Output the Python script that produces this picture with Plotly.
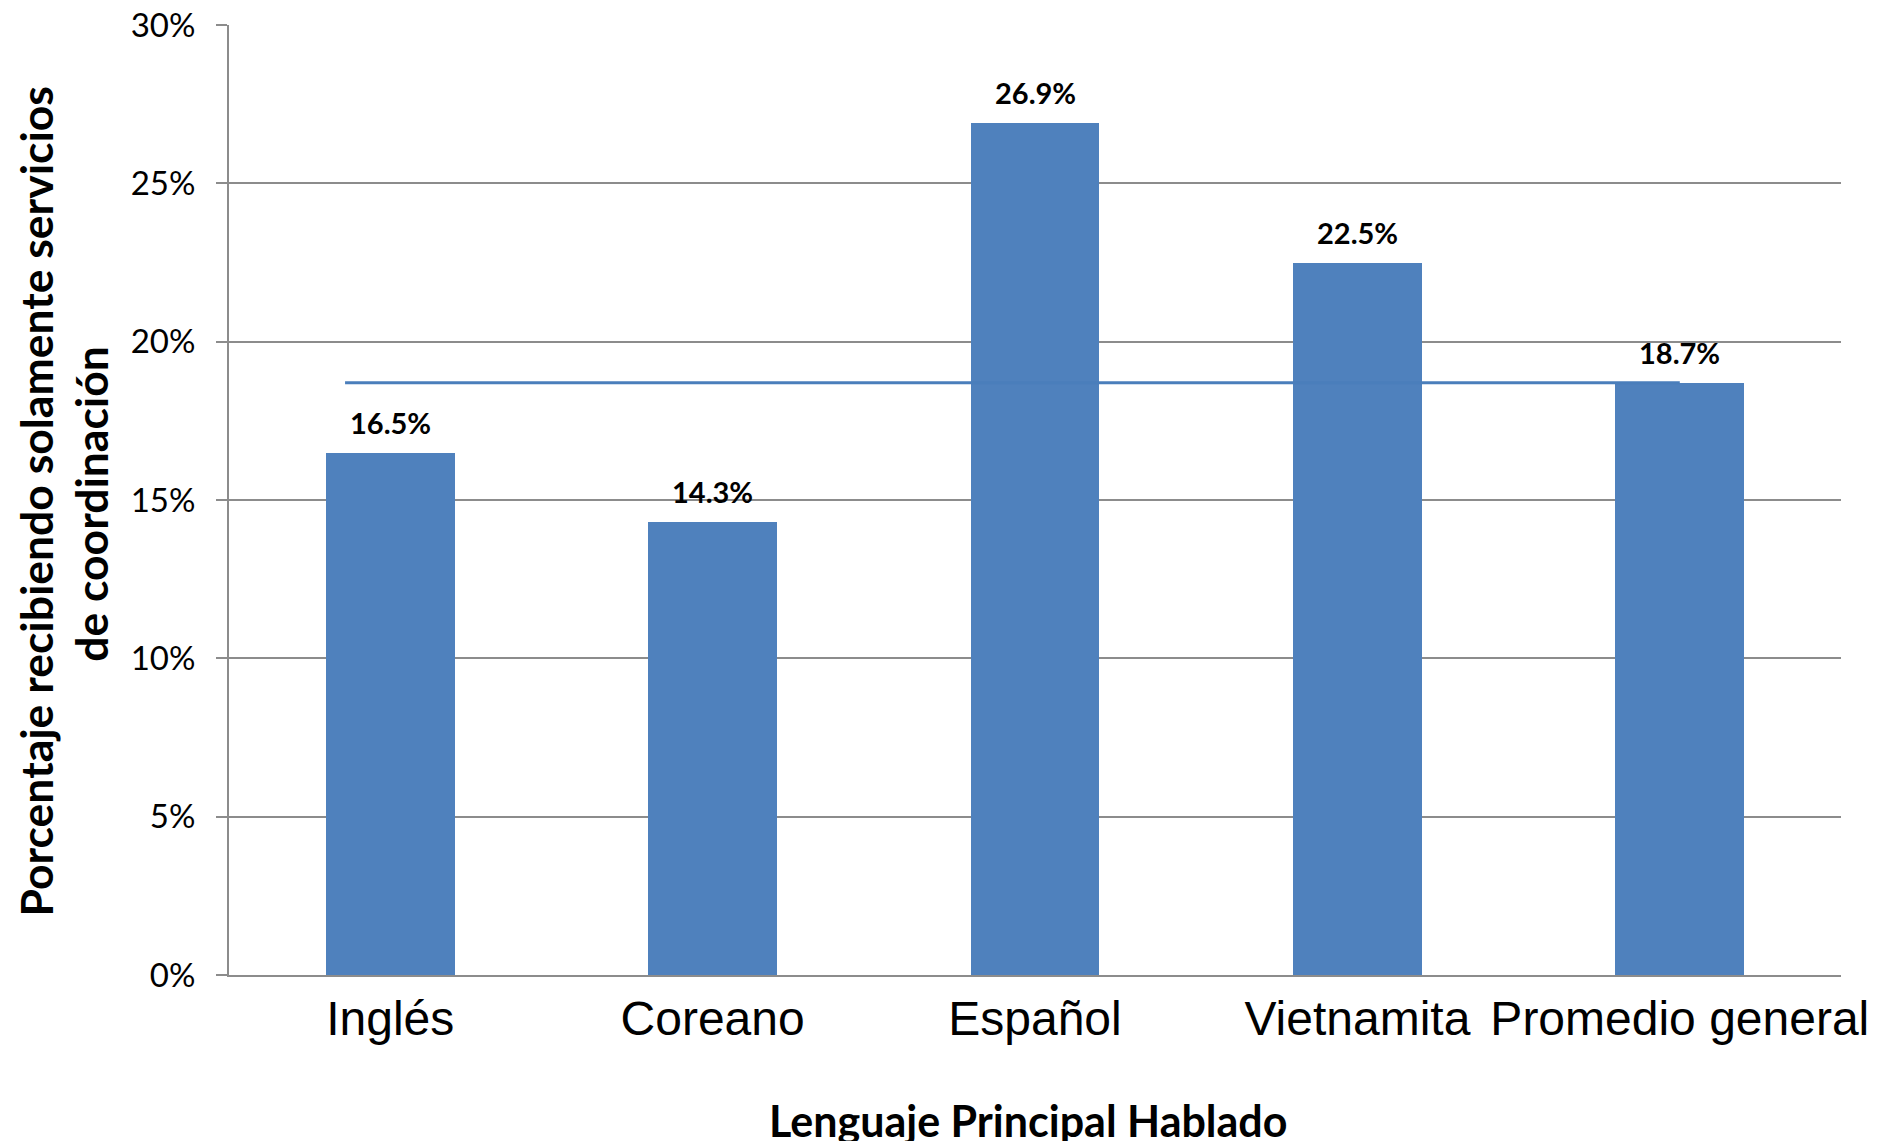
import plotly.graph_objects as go

categories = ["Inglés", "Coreano", "Español", "Vietnamita", "Promedio general"]
values = [16.5, 14.3, 26.9, 22.5, 18.7]
average_value = 18.7
y_tick_vals = [0, 5, 10, 15, 20, 25, 30]
y_tick_text = ["0%", "5%", "10%", "15%", "20%", "25%", "30%"]
y_title_lines = ["Porcentaje recibiendo solamente servicios", "de coordinación"]
x_title = "Lenguaje Principal Hablado"

x_pos = list(range(len(categories)))
BAR = "#4f81bd"
GRID = "#8c8c8c"

fig = go.Figure()
fig.add_trace(go.Bar(
    x=x_pos, y=values, width=0.4, marker=dict(color=BAR, line=dict(width=0)),
    hoverinfo="skip", showlegend=False,
))
fig.add_trace(go.Scatter(
    x=[x_pos[0] - 0.14, x_pos[-1]], y=[average_value, average_value], mode="lines",
    line=dict(color="#4a7ebb", width=3), hoverinfo="skip", showlegend=False,
))

for xi, v in zip(x_pos, values):
    fig.add_annotation(
        x=xi, y=v, text=f"<b>{v:.1f}%</b>", showarrow=False,
        xanchor="center", yanchor="bottom", yshift=11,
        font=dict(family="Lato", size=29, color="#000000"),
    )

# y-axis title (two lines, placed separately)
for txt, xp, yp in zip(y_title_lines, [-0.12, -0.0857], [0.498, 0.4958]):
    fig.add_annotation(
        xref="paper", yref="paper", x=xp, y=yp,
        text=f"<b>{txt}</b>",
        textangle=-90, showarrow=False, xanchor="center", yanchor="middle",
        font=dict(family="Lato", size=44.5, color="#000000"),
    )
# x-axis title
fig.add_annotation(
    xref="paper", yref="paper", x=0.4955, y=-0.153,
    text=f"<b>{x_title}</b>", showarrow=False,
    xanchor="center", yanchor="middle",
    font=dict(family="Lato", size=43, color="#000000"),
)
# slide number, cut off at page bottom
fig.add_annotation(
    xref="paper", yref="paper", x=1.0034, y=-0.171,
    text="15", showarrow=False, xanchor="left", yanchor="top",
    font=dict(family="Lato", size=28, color="#000000"),
)

fig.update_layout(
    width=1886, height=1141,
    margin=dict(l=220.5, r=52.5, t=17, b=173.5, autoexpand=False),
    paper_bgcolor="white", plot_bgcolor="white",
    bargap=0,
)
fig.update_xaxes(
    range=[-0.5, 4.5], tickvals=x_pos, ticktext=categories,
    showgrid=False, zeroline=False, showline=True, linecolor=GRID, linewidth=2,
    ticks="", tickfont=dict(family="Liberation Sans", size=48, color="#000000"),
    ticklabelstandoff=0,
)
fig.update_yaxes(
    range=[0, 30], tickvals=y_tick_vals, ticktext=y_tick_text,
    showgrid=True, gridcolor=GRID, gridwidth=1.5, zeroline=False,
    showline=True, linecolor=GRID, linewidth=2,
    ticks="outside", ticklen=11, tickcolor=GRID, tickwidth=1.5,
    tickfont=dict(family="Lato", size=33, color="#000000"),
    ticklabelstandoff=14, ticklabeloverflow="allow",
)

fig.write_html("out.html")
